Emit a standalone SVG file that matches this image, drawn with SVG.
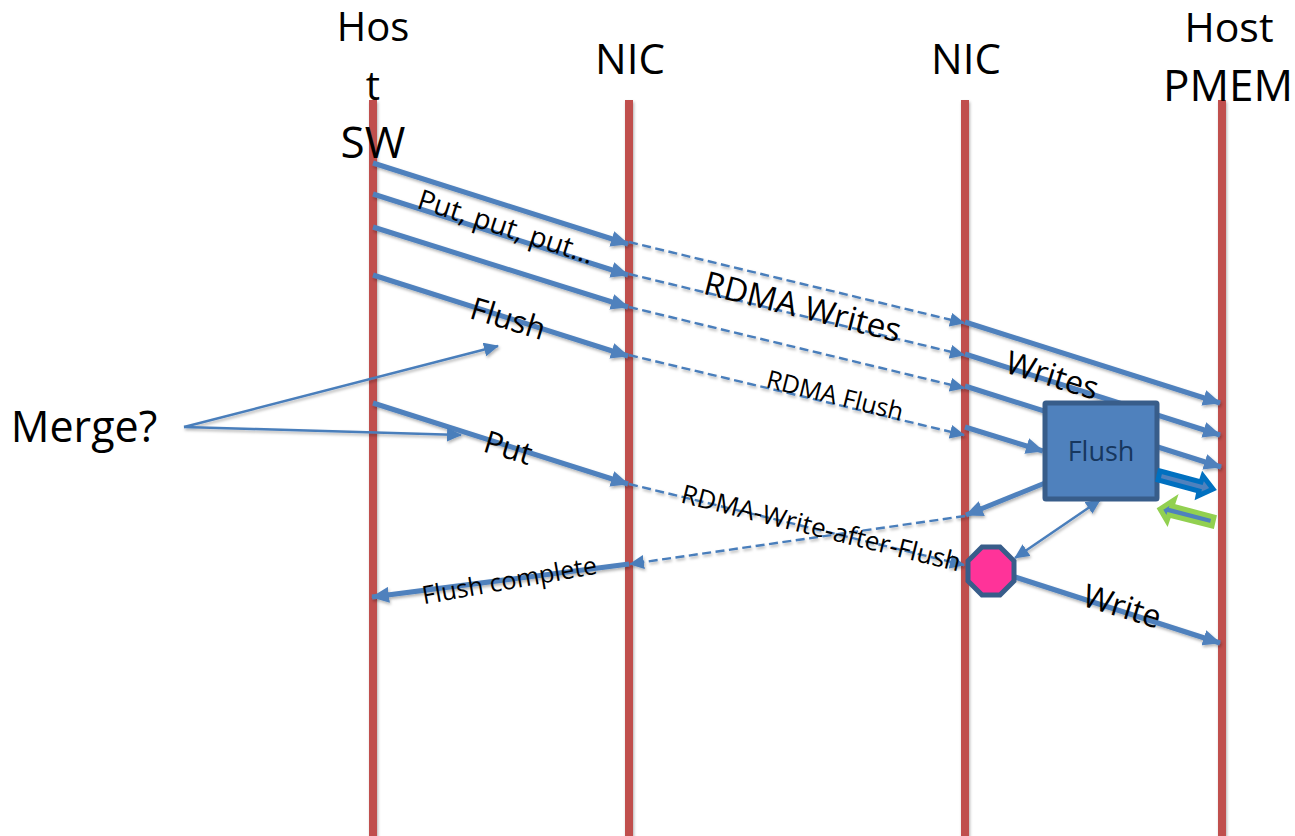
<svg xmlns="http://www.w3.org/2000/svg" width="1295" height="836" viewBox="0 0 1295 836">
<defs>
<marker id="a" markerUnits="userSpaceOnUse" markerWidth="18" markerHeight="16" refX="17" refY="8" orient="auto-start-reverse"><path d="M0 0L18 8L0 16z" fill="#4f81bd"/></marker>
<marker id="b" markerUnits="userSpaceOnUse" markerWidth="15" markerHeight="14" refX="14" refY="7" orient="auto-start-reverse"><path d="M0 0L15 7L0 14z" fill="#4a7ebb"/></marker>
<filter id="sh" x="-5%" y="-5%" width="110%" height="110%"><feDropShadow dx="1" dy="2" stdDeviation="1.5" flood-color="#000" flood-opacity=".3"/></filter>
</defs>
<style>
.life{stroke:#c0504d;stroke-width:8;fill:none}
.s{stroke:#4f81bd;stroke-width:5;fill:none;marker-end:url(#a)}
.d{stroke:#4a7ebb;stroke-width:2.4;stroke-dasharray:9 4.5;fill:none;marker-end:url(#b)}
.t{stroke:#4a7ebb;stroke-width:2.4;fill:none;marker-end:url(#b)}
text{font-family:"Open Sans","Liberation Sans",sans-serif;fill:#000;text-anchor:middle}
</style>
<rect width="1295" height="836" fill="#fff"/>
<g id="lifelines" filter="url(#sh)">
<path class="life" d="M373 100V836M629 100V836M965 100V836M1222 100V836"/>
</g>
<g id="connectors" filter="url(#sh)">
<path class="s" d="M373 163L628 244"/><path class="s" d="M373 194L628 275"/><path class="s" d="M373 227L628 307"/><path class="s" d="M373 275L628 356"/><path class="s" d="M373 403L628 484"/>
<path class="d" d="M629 242L964 323"/><path class="d" d="M629 274L964 355"/><path class="d" d="M629 307L964 388"/><path class="d" d="M629 355L964 435"/><path class="d" d="M629 484L964 565"/>
<path class="s" d="M965 322L1220 403"/><path class="s" d="M965 354L1220 435"/><path class="s" d="M965 386L1221 467"/><path class="s" d="M965 427L1043 451"/>
<path class="s" d="M1045 483L966 515"/><path class="d" d="M965 516L630 564"/><path class="s" d="M629 564L372 597"/>
<path class="s" d="M1015 577L1220 643"/>
<path class="t" d="M1015 558L1100 500" marker-start="url(#b)"/>
<path class="t" d="M184 427L498 346"/><path class="t" d="M184 427L461 435"/>
</g>
<g id="flush"><rect x="1045" y="403" width="112" height="96" rx="1" fill="#4f81bd" stroke="#385d8a" stroke-width="5"/><text x="1101" y="461" font-size="27" style="fill:#17375e">Flush</text></g>
<g id="stop"><polygon points="982,547 1000,547 1014,561 1014,581 1000,595 982,595 968,581 968,561" fill="#ff3399" stroke="#385d8a" stroke-width="5"/></g>
<g id="bluearrow"><polygon points="1160,471 1201,482 1203,476 1213,489 1198,496 1199,491 1158,480" fill="#4f81bd" stroke="#0070c0" stroke-width="5"/></g>
<g id="greenarrow"><polygon points="1160,509 1174,500 1172,506 1214,517 1212,526 1169,515 1167,521" fill="#4f81bd" stroke="#92d050" stroke-width="5"/></g>
<g id="labels">
<text font-size="40" x="373" y="41">Hos</text><text font-size="40" x="373" y="100">t</text><text font-size="44" x="373" y="158">SW</text>
<text font-size="42" x="630" y="74">NIC</text><text font-size="42" x="966" y="74">NIC</text>
<text font-size="41" x="1229" y="42">Host</text><text font-size="44" x="1228" y="101">PMEM</text>
<text font-size="43" x="84" y="442">Merge?</text>
<text font-size="28" transform="translate(503 236) rotate(18)">Put, put, put…</text>
<text font-size="33" transform="translate(800 318) rotate(14)">RDMA Writes</text>
<text font-size="32" transform="translate(1049 386) rotate(17)">Writes</text>
<text font-size="31" transform="translate(505 329) rotate(17)">Flush</text>
<text font-size="25" transform="translate(833 404) rotate(14)">RDMA Flush</text>
<text font-size="31" transform="translate(505 458) rotate(17)">Put</text>
<text font-size="26" transform="translate(819 537) rotate(14)">RDMA-Write-after-Flush</text>
<text font-size="25" transform="translate(511 589) rotate(-10)">Flush complete</text>
<text font-size="32" transform="translate(1119 617) rotate(17)">Write</text>
</g>
</svg>
